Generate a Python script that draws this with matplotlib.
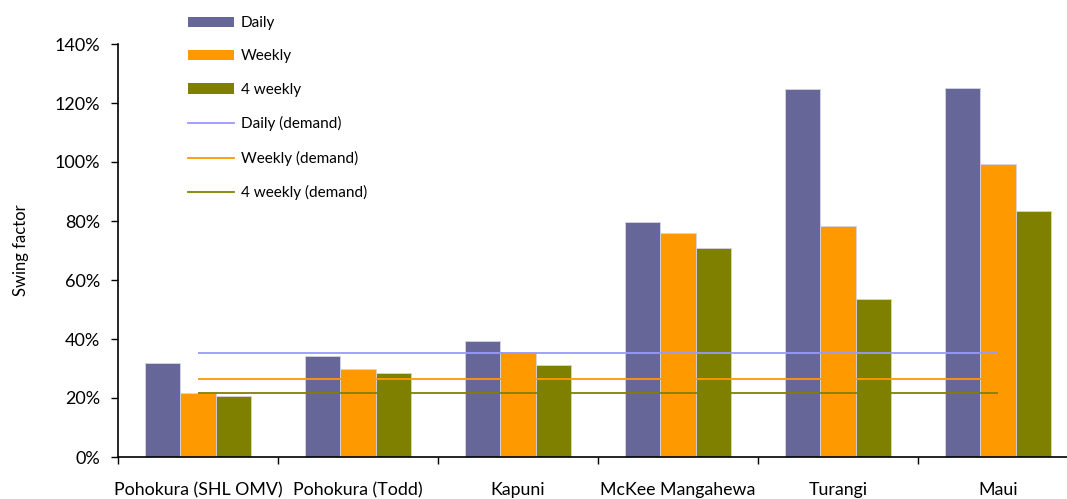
import matplotlib
matplotlib.use('Agg')
import numpy as np
from matplotlib import pyplot as plt
from matplotlib.patches import Patch
from matplotlib.lines import Line2D
from matplotlib.ticker import FixedLocator, FuncFormatter

plt.rcParams['font.family'] = ['Lato', 'DejaVu Sans']

# data (percent)
fields = ['Pohokura (SHL OMV)', 'Pohokura (Todd)', 'Kapuni',
          'McKee Mangahewa', 'Turangi', 'Maui']
daily = [31.8, 34.2, 39.2, 79.5, 124.9, 125.0]
weekly = [21.8, 29.8, 35.5, 75.8, 78.3, 99.4]
four_weekly = [20.6, 28.6, 31.2, 70.8, 53.5, 83.3]
daily_demand = [35.1, 35.1, 35.1, 35.1, 35.1, 35.1]
weekly_demand = [26.4, 26.4, 26.4, 26.4, 26.4, 26.4]
four_weekly_demand = [21.6, 21.6, 21.6, 21.6, 21.6, 21.6]

bar_colors = ['#666699', '#FF9900', '#808000']  # daily, weekly, 4 weekly
line_colors = ['#9999FF', '#FF9900', '#808000']

W, H = 1067, 499
fig = plt.figure(figsize=(W / 100, H / 100), dpi=100)
# axes run past the right edge of the figure, as in the reference
ax = fig.add_axes([118 / W, 1 - 457 / H, 960 / W, 413 / H])

x = np.arange(len(fields)) + 0.5
bw = 0.219
for i, (vals, c) in enumerate(zip([daily, weekly, four_weekly], bar_colors)):
    ax.bar(x + (i - 1) * bw, vals, width=bw, color=c, edgecolor='#d4d4e4',
           linewidth=0.6, zorder=2)

for vals, c in zip([daily_demand, weekly_demand, four_weekly_demand], line_colors):
    ax.plot(x, vals, color=c, lw=1.3, zorder=3, solid_capstyle='butt')

ax.set_xlim(0, len(fields))
ax.set_ylim(0, 140)
ax.yaxis.set_major_locator(FixedLocator(np.arange(0, 141, 20)))
ax.yaxis.set_major_formatter(FuncFormatter(lambda v, p: f'{v:.0f}%'))
ax.tick_params(axis='y', direction='out', length=5, width=1, pad=8, labelsize=13)

# category boundaries get tick marks, names sit under the centres
ax.xaxis.set_major_locator(FixedLocator(np.arange(0, len(fields) + 1)))
ax.xaxis.set_minor_locator(FixedLocator(x))
ax.set_xticklabels([])
ax.set_xticklabels(fields, minor=True)
ax.tick_params(axis='x', which='major', direction='out', length=5, width=1)
ax.tick_params(axis='x', which='minor', length=0, pad=18, labelsize=12.8)

for s in ['top', 'right']:
    ax.spines[s].set_visible(False)
for s in ['left', 'bottom']:
    ax.spines[s].set_linewidth(1.2)

ax.set_ylabel('Swing factor', fontsize=12, labelpad=18)

handles = [Patch(facecolor=c, edgecolor='none') for c in bar_colors] + \
          [Line2D([0], [0], color=c, lw=1.3) for c in line_colors]
labels = ['Daily', 'Weekly', '4 weekly', 'Daily (demand)', 'Weekly (demand)',
          '4 weekly (demand)']
fig.legend(handles, labels, loc='upper left', bbox_to_anchor=(188 / W, 1 - 16 / H),
           frameon=False, fontsize=11, handlelength=3.0, handleheight=0.65,
           handletextpad=0.45, labelspacing=1.27, borderpad=0, borderaxespad=0)

fig.savefig('out.png', dpi=100)
